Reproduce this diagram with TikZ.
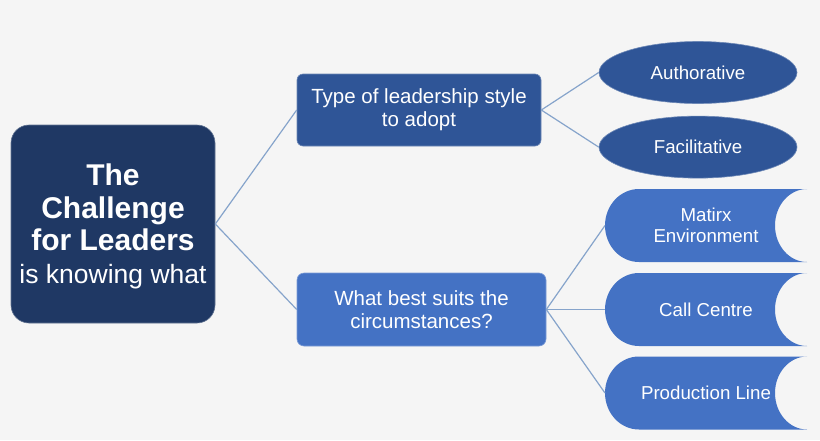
\documentclass[tikz,border=0pt]{standalone}
\usepackage{fontspec}
\setmainfont{Liberation Sans}
\usetikzlibrary{shapes.geometric,positioning}
\definecolor{bgcol}{HTML}{F5F5F5}
\definecolor{navy}{HTML}{1F3864}
\definecolor{midblue}{HTML}{2F5597}
\definecolor{lightblue}{HTML}{4472C4}
\definecolor{linkcol}{HTML}{86A4CB}
\pgfdeclarelayer{back}
\pgfsetlayers{back,main}
\tikzstyle{link}=[draw=linkcol, line width=1.2pt]
\tikzset{
  box/.style={rectangle, rounded corners=6pt, fill=#1, draw=#1!70!white, line width=0.6pt,
    text=white, align=center, inner sep=0pt},
  oval/.style={ellipse, fill=midblue, draw=midblue!70!white, line width=0.6pt, text=white,
    minimum width=198pt, minimum height=62pt, inner sep=0pt, font=\fontsize{18.7}{22}\selectfont},
  tab/.style={rectangle, outer sep=0pt, inner sep=0pt, text=white, align=center,
    minimum width=202pt, minimum height=73pt, font=\fontsize{18.7}{21}\selectfont}
}

\begin{document}
\begin{tikzpicture}[x=1pt, y=-1pt]
                \begin{pgfonlayer}{back}
                \fill[bgcol] (0,0) rectangle (820,440);
                \end{pgfonlayer}
                \useasboundingbox (0,0) rectangle (820,440);

                % Nodes
                \node [box=navy, rounded corners=18pt, minimum width=204pt, minimum height=198pt,
                       font=\fontsize{30}{32.5}\selectfont\bfseries] (lead) at (113,224)
                      {\rule{0pt}{26pt}The\\Challenge\\for Leaders\\{\fontsize{26.5}{32.5}\selectfont\mdseries is knowing what}};
                \node [box=midblue, minimum width=244pt, minimum height=72pt,
                       font=\fontsize{20.5}{23}\selectfont] (style) at (419,110) {Type of leadership style\\to adopt};
                \node [box=lightblue, rounded corners=7pt, minimum width=249pt, minimum height=73pt,
                       font=\fontsize{20.5}{23}\selectfont] (suits) at (421.5,309.5) {What best suits the\\circumstances?};
                \node [oval] (auth) at (698,72.5) {Authorative};
                \node [oval, below=12pt of auth] (facil) {Facilitative};
                \node [tab] (matrix) at (706,225.5) {Matirx\\Environment};
                \node [tab] (call) at (706,309.5) {Call Centre};
                \node [tab] (prod) at (706,393) {Production Line};

                % Tab shapes behind the text
                \begin{pgfonlayer}{back}
                \foreach \n in {matrix,call,prod}
                  \fill[lightblue] (\n.north east) -- ([xshift=34pt]\n.north west)
                    arc[start angle=90, end angle=270, x radius=34pt, y radius=36.5pt]
                    -- (\n.south east)
                    arc[start angle=270, end angle=90, x radius=32pt, y radius=36.5pt] -- cycle;
                \end{pgfonlayer}

                % Links
                \draw[link] (lead.east) -- (style.west);
                \draw[link] (lead.east) -- (suits.west);
                \draw[link] (style.east) -- (auth.west);
                \draw[link] (style.east) -- (facil.west);
                \foreach \n in {matrix,call,prod}
                  \draw[link] (suits.east) -- (\n.west);
            \end{tikzpicture}
\end{document}
